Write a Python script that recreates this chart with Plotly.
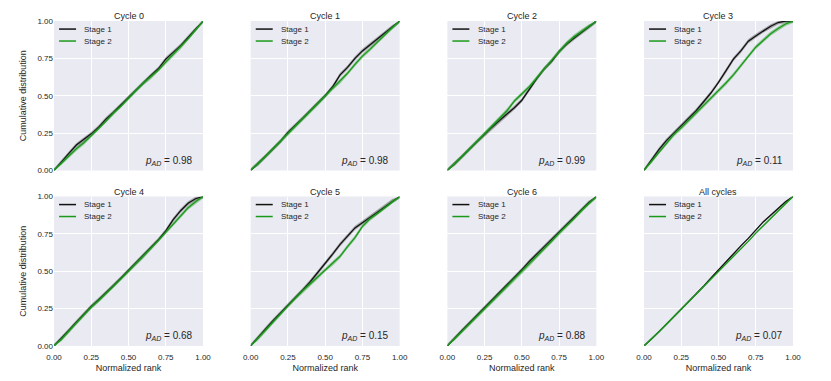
import plotly.graph_objects as go
from plotly.subplots import make_subplots

# normalized rank grid
x_rank = [0, .05, .1, .15, .2, .25, .3, .35, .4, .45, .5,
          .55, .6, .65, .7, .75, .8, .85, .9, .95, 1]

panel_titles = ["Cycle 0", "Cycle 1", "Cycle 2", "Cycle 3",
                "Cycle 4", "Cycle 5", "Cycle 6", "All cycles"]
p_ad = [0.98, 0.98, 0.99, 0.11, 0.68, 0.15, 0.88, 0.07]
band_hw = [0.014, 0.014, 0.014, 0.014, 0.014, 0.014, 0.014, 0.006]

stage1_c0 = [0, .06, .115, .17, .205, .245, .29, .345, .39, .44, .49, .54, .59, .635, .68, .745, .79, .835, .89, .945, 1]
stage2_c0 = [0, .05, .10, .145, .185, .23, .28, .33, .385, .43, .485, .535, .585, .625, .67, .725, .775, .825, .88, .94, 1]
stage1_c1 = [0, .045, .095, .145, .195, .255, .30, .35, .40, .45, .50, .56, .64, .69, .75, .80, .84, .88, .925, .96, 1]
stage2_c1 = [0, .045, .095, .145, .195, .25, .295, .345, .395, .445, .495, .55, .595, .65, .71, .765, .81, .86, .91, .955, 1]
stage1_c2 = [0, .045, .095, .145, .195, .245, .29, .335, .375, .42, .47, .545, .615, .68, .73, .795, .845, .885, .925, .96, 1]
stage2_c2 = [0, .045, .095, .145, .195, .245, .295, .345, .40, .465, .51, .56, .62, .68, .735, .795, .85, .895, .93, .965, 1]
stage1_c3 = [0, .07, .14, .20, .25, .30, .35, .40, .46, .52, .59, .665, .745, .80, .865, .90, .935, .965, .99, 1, 1]
stage2_c3 = [0, .06, .125, .185, .24, .285, .335, .385, .43, .48, .535, .585, .64, .70, .765, .825, .87, .915, .95, .98, 1]
stage1_c4 = [0, .05, .105, .16, .215, .265, .31, .355, .405, .455, .505, .555, .605, .655, .71, .77, .845, .905, .955, .985, 1]
stage2_c4 = [0, .045, .10, .155, .21, .26, .305, .35, .40, .45, .50, .55, .60, .655, .705, .76, .815, .87, .925, .965, 1]
stage1_c5 = [0, .06, .115, .17, .22, .275, .325, .375, .43, .49, .55, .615, .68, .735, .79, .825, .86, .895, .935, .97, 1]
stage2_c5 = [0, .05, .105, .16, .215, .27, .32, .37, .415, .46, .51, .55, .60, .665, .725, .80, .85, .885, .925, .965, 1]
stage1_c6 = [0, .055, .105, .155, .205, .255, .305, .355, .405, .46, .51, .565, .615, .665, .715, .765, .815, .865, .915, .96, 1]
stage2_c6 = [0, .05, .10, .15, .20, .25, .30, .35, .40, .45, .495, .545, .60, .65, .70, .755, .80, .85, .905, .955, 1]
stage1_all = [0, .045, .095, .145, .195, .245, .295, .345, .40, .455, .51, .56, .615, .67, .72, .775, .83, .875, .92, .965, 1]
stage2_all = [0, .045, .095, .145, .195, .245, .295, .345, .395, .45, .50, .55, .60, .65, .70, .755, .805, .855, .905, .955, 1]

stage1 = [stage1_c0, stage1_c1, stage1_c2, stage1_c3, stage1_c4, stage1_c5, stage1_c6, stage1_all]
stage2 = [stage2_c0, stage2_c1, stage2_c2, stage2_c3, stage2_c4, stage2_c5, stage2_c6, stage2_all]

BLACK = "#111111"
GREEN = "#1a9a1a"
TXT = "#262626"
FONT = "Liberation Sans, Arial, sans-serif"

fig = make_subplots(rows=2, cols=4, subplot_titles=panel_titles,
                    horizontal_spacing=0.0645, vertical_spacing=0.08)

for i in range(8):
    r, c = i // 4 + 1, i % 4 + 1
    hw = band_hw[i]
    for ys, col, band in [(stage1[i], BLACK, "rgba(80,80,80,0.45)"),
                          (stage2[i], GREEN, "rgba(30,150,30,0.4)")]:
        lo = [max(0, v - hw) for v in ys]
        hi = [min(1, v + hw) for v in ys]
        fig.add_trace(go.Scatter(x=x_rank + x_rank[::-1], y=hi + lo[::-1], fill="toself",
                                 fillcolor=band, line=dict(width=0), hoverinfo="skip",
                                 showlegend=False), row=r, col=c)
        fig.add_trace(go.Scatter(x=x_rank, y=ys, mode="lines",
                                 line=dict(color=col, width=1.3), showlegend=False),
                      row=r, col=c)

ticks = [0, 0.25, 0.5, 0.75, 1.0]
ticktext = ["0.00", "0.25", "0.50", "0.75", "1.00"]
fig.update_xaxes(range=[0, 1], tickvals=ticks, ticktext=ticktext, showticklabels=False,
                 gridcolor="white", gridwidth=1, zeroline=False, showline=False,
                 ticks="", tickfont=dict(size=8, color=TXT), automargin=False)
fig.update_yaxes(range=[0, 1], tickvals=ticks, ticktext=ticktext, showticklabels=False,
                 gridcolor="white", gridwidth=1, zeroline=False, showline=False,
                 ticks="", tickfont=dict(size=8, color=TXT), automargin=False)
for c in range(1, 5):
    fig.update_xaxes(showticklabels=True, ticklabelstandoff=5, title_text="Normalized rank",
                     title_font=dict(size=9, color=TXT), title_standoff=6, row=2, col=c)
for r in (1, 2):
    fig.update_yaxes(showticklabels=True, title_text="Cumulative distribution",
                     title_font=dict(size=9, color=TXT), title_standoff=9, row=r, col=1)

for a in fig.layout.annotations:
    a.font = dict(size=9, color=TXT, family=FONT)
    a.yshift = -2

# hand-drawn legend and p_AD label in each panel
for i in range(8):
    ax = "x" if i == 0 else "x%d" % (i + 1)
    ay = "y" if i == 0 else "y%d" % (i + 1)
    for name, col, yy in [("Stage 1", BLACK, 0.946), ("Stage 2", GREEN, 0.866)]:
        fig.add_shape(type="line", xref=ax + " domain", yref=ay + " domain",
                      x0=0.034, x1=0.148, y0=yy, y1=yy, line=dict(color=col, width=1.5))
        fig.add_annotation(x=0.19, y=yy, xref=ax + " domain", yref=ay + " domain",
                           xanchor="left", yanchor="middle", showarrow=False, text=name,
                           font=dict(size=8, color=TXT, family=FONT))
    fig.add_annotation(x=0.945, y=0.065, xref=ax + " domain", yref=ay + " domain",
                       xanchor="right", yanchor="middle", showarrow=False,
                       text="<i>p</i><sub><i>AD</i></sub> = %.2f" % p_ad[i],
                       font=dict(size=10, color=TXT, family=FONT))

# the page adds an 8px body margin, so the figure is a bit smaller than the window
fig.update_layout(width=815, height=365, margin=dict(l=46, r=30, t=13, b=27),
                  plot_bgcolor="#EAEAF2", paper_bgcolor="white", showlegend=False,
                  font=dict(family=FONT, size=8, color=TXT))

fig.write_html("out.html")
